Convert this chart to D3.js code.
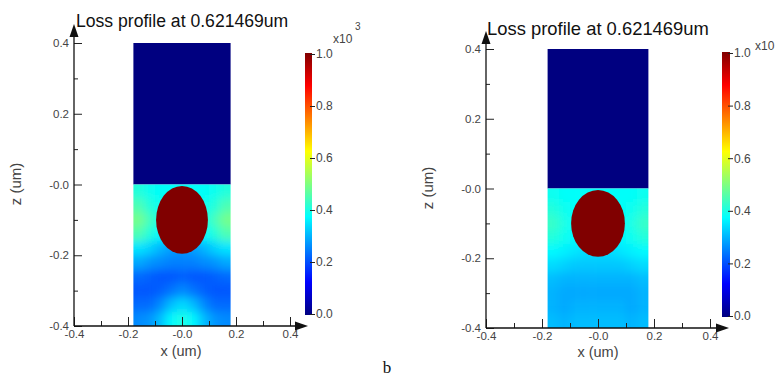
<!DOCTYPE html>
<html>
<head>
<meta charset="utf-8">
<script src="https://cdn.jsdelivr.net/npm/d3@7"></script>
<style>
  body { margin: 0; background: #fff; }
  svg { display: block; font-family: Arial, "Liberation Sans", sans-serif; }
</style>
</head>
<body>
<svg id="chart" width="775" height="381"></svg>
<script>
// ---- data ----
const title = "Loss profile at 0.621469um";
const xTicks = [-0.4, -0.2, 0, 0.2, 0.4];
const xTickLabels = ["-0.4", "-0.2", "-0.0", "0.2", "0.4"];
const xMinor = [-0.3, -0.1, 0.1, 0.3];
const zTicks = [0.4, 0.2, 0, -0.2, -0.4];
const zTickLabels = ["0.4", "0.2", "-0.0", "-0.2", "-0.4"];
const zMinor = [0.3, 0.1, -0.1, -0.3];
const cTicks = [0, 0.2, 0.4, 0.6, 0.8, 1.0];
const cTickLabels = ["0.0", "0.2", "0.4", "0.6", "0.8", "1.0"];
const jetStops = [0, 0.125, 0.375, 0.625, 0.875, 1];
const jetColors = ["#000080", "#0000ff", "#00ffff", "#ffff00", "#ff0000", "#800000"];

// simulation window: x -0.18..0.18, upper half (z 0..0.4) is loss 0
const guideX = [-0.18, 0.18];
const upperZ = [0, 0.4];
const upperValue = 0;
const particleCenter = [0, -0.1];
const particleRadius = 0.096;
const particleValue = 1;

// lower half, cell centres (x, z) and loss values (x10^3)
const gridX = [-0.16, -0.12, -0.08, -0.04, 0, 0.04, 0.08, 0.12, 0.16];
const gridZ = [-0.02, -0.06, -0.10, -0.14, -0.18, -0.22, -0.26, -0.30, -0.34, -0.38];
const lossLeft = [
  [0.41, 0.39, 0.38, 0.38, 0.38, 0.38, 0.38, 0.39, 0.41],
  [0.45, 0.41, 0.39, 0.38, 0.38, 0.38, 0.39, 0.41, 0.45],
  [0.49, 0.44, 0.40, 0.39, 0.38, 0.39, 0.40, 0.44, 0.49],
  [0.45, 0.41, 0.37, 0.35, 0.34, 0.35, 0.37, 0.41, 0.45],
  [0.35, 0.33, 0.30, 0.28, 0.27, 0.28, 0.30, 0.33, 0.35],
  [0.29, 0.27, 0.26, 0.25, 0.25, 0.25, 0.26, 0.27, 0.29],
  [0.23, 0.22, 0.21, 0.21, 0.22, 0.21, 0.21, 0.22, 0.23],
  [0.21, 0.21, 0.22, 0.24, 0.26, 0.24, 0.22, 0.21, 0.21],
  [0.23, 0.23, 0.26, 0.31, 0.34, 0.31, 0.26, 0.23, 0.23],
  [0.26, 0.27, 0.31, 0.37, 0.40, 0.37, 0.31, 0.27, 0.26]
];
const lossRight = [
  [0.39, 0.38, 0.38, 0.38, 0.38, 0.38, 0.38, 0.38, 0.39],
  [0.41, 0.39, 0.38, 0.38, 0.38, 0.38, 0.38, 0.39, 0.41],
  [0.43, 0.40, 0.38, 0.38, 0.38, 0.38, 0.38, 0.40, 0.43],
  [0.41, 0.39, 0.37, 0.36, 0.36, 0.36, 0.37, 0.39, 0.41],
  [0.37, 0.36, 0.35, 0.34, 0.34, 0.34, 0.35, 0.36, 0.37],
  [0.34, 0.33, 0.32, 0.32, 0.32, 0.32, 0.32, 0.33, 0.34],
  [0.31, 0.30, 0.30, 0.30, 0.30, 0.30, 0.30, 0.30, 0.31],
  [0.30, 0.29, 0.29, 0.29, 0.29, 0.29, 0.29, 0.29, 0.30],
  [0.30, 0.29, 0.30, 0.30, 0.30, 0.30, 0.30, 0.29, 0.30],
  [0.31, 0.30, 0.31, 0.31, 0.31, 0.31, 0.31, 0.30, 0.31]
];

// ---- layout ----
const svg = d3.select("#chart");
const defs = svg.append("defs");
const jet = d3.scaleLinear().domain(jetStops).range(jetColors).clamp(true);

const panels = [
  { id: "l", values: lossLeft, x0: 74, x1: 290, yTop: 43, yBot: 326, arrowTop: 24, arrowRight: 308,
    cbX: 305, cbW: 7, cbTop: 54, cbBot: 314, titleX: 76, titleY: 27, titleSize: 17.6,
    xLabX: 181, xLabY: 356, zLabX: 16, zLabY: 184, expX: 333, expY: 43, expPower: true },
  { id: "r", values: lossRight, x0: 486, x1: 710, yTop: 49, yBot: 328, arrowTop: 31, arrowRight: 729,
    cbX: 722, cbW: 8, cbTop: 53, cbBot: 316, titleX: 487, titleY: 35, titleSize: 18.4,
    xLabX: 598, xLabY: 357, zLabX: 428, zLabY: 188, expX: 755, expY: 50, expPower: false }
];

function drawPanel(p) {
  const g = svg.append("g");
  const x = d3.scaleLinear().domain([-0.4, 0.4]).range([p.x0, p.x1]);
  const y = d3.scaleLinear().domain([-0.4, 0.4]).range([p.yBot, p.yTop]);

  // upper half
  g.append("rect")
    .attr("x", x(guideX[0]))
    .attr("y", y(upperZ[1]))
    .attr("width", x(guideX[1]) - x(guideX[0]))
    .attr("height", y(upperZ[0]) - y(upperZ[1]))
    .attr("fill", jet(upperValue));

  // lower half, smoothed grid (edge cells run past the clip so the blur keeps full colour)
  const stepX = gridX[1] - gridX[0];
  const stepZ = gridZ[0] - gridZ[1];
  const pad = 20;
  defs.append("clipPath").attr("id", "clip-" + p.id)
    .append("rect")
    .attr("x", x(guideX[0]))
    .attr("y", y(0))
    .attr("width", x(guideX[1]) - x(guideX[0]))
    .attr("height", y(-0.4) - y(0));
  const f = defs.append("filter").attr("id", "blur-" + p.id)
    .attr("filterUnits", "userSpaceOnUse")
    .attr("x", x(guideX[0]) - pad).attr("y", y(0) - pad)
    .attr("width", x(guideX[1]) - x(guideX[0]) + 2 * pad)
    .attr("height", y(-0.4) - y(0) + 2 * pad);
  f.append("feGaussianBlur").attr("stdDeviation", 5);

  const cells = [];
  const nr = p.values.length, nc = gridX.length;
  p.values.forEach((row, i) => row.forEach((v, j) => cells.push({ x: gridX[j], z: gridZ[i], v, i, j })));
  g.append("g").attr("clip-path", `url(#clip-${p.id})`)
    .append("g").attr("filter", `url(#blur-${p.id})`)
    .selectAll("rect").data(cells).join("rect")
    .attr("x", d => x(d.x - stepX / 2) - (d.j === 0 ? pad : 0))
    .attr("y", d => y(d.z + stepZ / 2) - (d.i === 0 ? pad : 0))
    .attr("width", d => x(stepX) - x(0) + 0.5 + (d.j === 0 || d.j === nc - 1 ? pad : 0))
    .attr("height", d => y(0) - y(stepZ) + 0.5 + (d.i === 0 || d.i === nr - 1 ? pad : 0))
    .attr("fill", d => jet(d.v));

  // particle
  g.append("ellipse")
    .attr("cx", x(particleCenter[0]))
    .attr("cy", y(particleCenter[1]))
    .attr("rx", x(particleRadius) - x(0))
    .attr("ry", y(0) - y(particleRadius))
    .attr("fill", jet(particleValue));

  // axes
  const styleAxis = a => {
    a.select(".domain").remove();
    a.selectAll(".tick line").attr("stroke", "#222");
    a.selectAll(".tick text").attr("fill", "#444").attr("font-size", 11.5).attr("font-family", null);
  };
  g.append("g").attr("transform", `translate(${p.x0},0)`)
    .call(d3.axisLeft(y).tickValues(zTicks).tickSize(-8).tickPadding(5).tickFormat((d, i) => zTickLabels[i]))
    .call(styleAxis);
  g.append("g").attr("transform", `translate(${p.x0},0)`)
    .call(d3.axisLeft(y).tickValues(zMinor).tickSize(-4).tickFormat(""))
    .call(styleAxis);
  g.append("g").attr("transform", `translate(0,${p.yBot})`)
    .call(d3.axisBottom(x).tickValues(xTicks).tickSize(-9).tickPadding(4).tickFormat((d, i) => xTickLabels[i]))
    .call(styleAxis);
  g.append("g").attr("transform", `translate(0,${p.yBot})`)
    .call(d3.axisBottom(x).tickValues(xMinor).tickSize(-5).tickFormat(""))
    .call(styleAxis);

  g.append("line").attr("x1", p.x0).attr("x2", p.x0).attr("y1", p.yBot).attr("y2", p.arrowTop + 8)
    .attr("stroke", "#111").attr("stroke-width", 1.3);
  g.append("line").attr("x1", p.x0).attr("x2", p.arrowRight - 8).attr("y1", p.yBot).attr("y2", p.yBot)
    .attr("stroke", "#111").attr("stroke-width", 1.3);
  g.append("path")
    .attr("d", `M${p.x0},${p.arrowTop}L${p.x0 - 4.5},${p.arrowTop + 13}L${p.x0 + 4.5},${p.arrowTop + 13}Z`)
    .attr("fill", "#111");
  g.append("path")
    .attr("d", `M${p.arrowRight},${p.yBot}L${p.arrowRight - 13},${p.yBot - 4.5}L${p.arrowRight - 13},${p.yBot + 4.5}Z`)
    .attr("fill", "#111");

  // titles
  g.append("text").attr("x", p.titleX).attr("y", p.titleY)
    .attr("font-size", p.titleSize).attr("fill", "#111").text(title);
  g.append("text").attr("x", p.xLabX).attr("y", p.xLabY).attr("text-anchor", "middle")
    .attr("font-size", 14.5).attr("fill", "#444").text("x (um)");
  g.append("text").attr("transform", `translate(${p.zLabX},${p.zLabY}) rotate(-90)`)
    .attr("text-anchor", "middle").attr("dy", "0.35em")
    .attr("font-size", 15).attr("fill", "#444").text("z (um)");

  // colour bar
  const cb = d3.scaleLinear().domain([0, 1]).range([p.cbBot, p.cbTop]);
  const grad = defs.append("linearGradient").attr("id", "grad-" + p.id)
    .attr("x1", 0).attr("y1", 1).attr("x2", 0).attr("y2", 0);
  grad.selectAll("stop").data(jetStops).join("stop")
    .attr("offset", d => d)
    .attr("stop-color", (d, i) => jetColors[i]);
  g.append("rect").attr("x", p.cbX).attr("y", cb(1) - 1)
    .attr("width", p.cbW).attr("height", cb(0) - cb(1) + 2)
    .attr("fill", `url(#grad-${p.id})`);
  g.append("g").attr("transform", `translate(${p.cbX + p.cbW - 2},0)`)
    .call(d3.axisRight(cb).tickValues(cTicks).tickSize(5).tickPadding(1).tickFormat((d, i) => cTickLabels[i]))
    .call(styleAxis)
    .call(a => a.selectAll(".tick text").attr("font-size", 12));
  g.append("text").attr("x", p.expX).attr("y", p.expY)
    .attr("font-size", 12).attr("fill", "#444").text("x10");
  // the right panel's power is off the edge of the picture
  if (p.expPower) {
    g.append("text").attr("x", p.expX + 22).attr("y", p.expY - 13)
      .attr("font-size", 10).attr("fill", "#444").text("3");
  }
}

panels.forEach(drawPanel);

svg.append("text").attr("x", 387).attr("y", 373).attr("text-anchor", "middle")
  .attr("font-family", "'Liberation Serif', 'DejaVu Serif', serif").attr("font-size", 17)
  .attr("fill", "#111").text("b");
</script>
</body>
</html>
